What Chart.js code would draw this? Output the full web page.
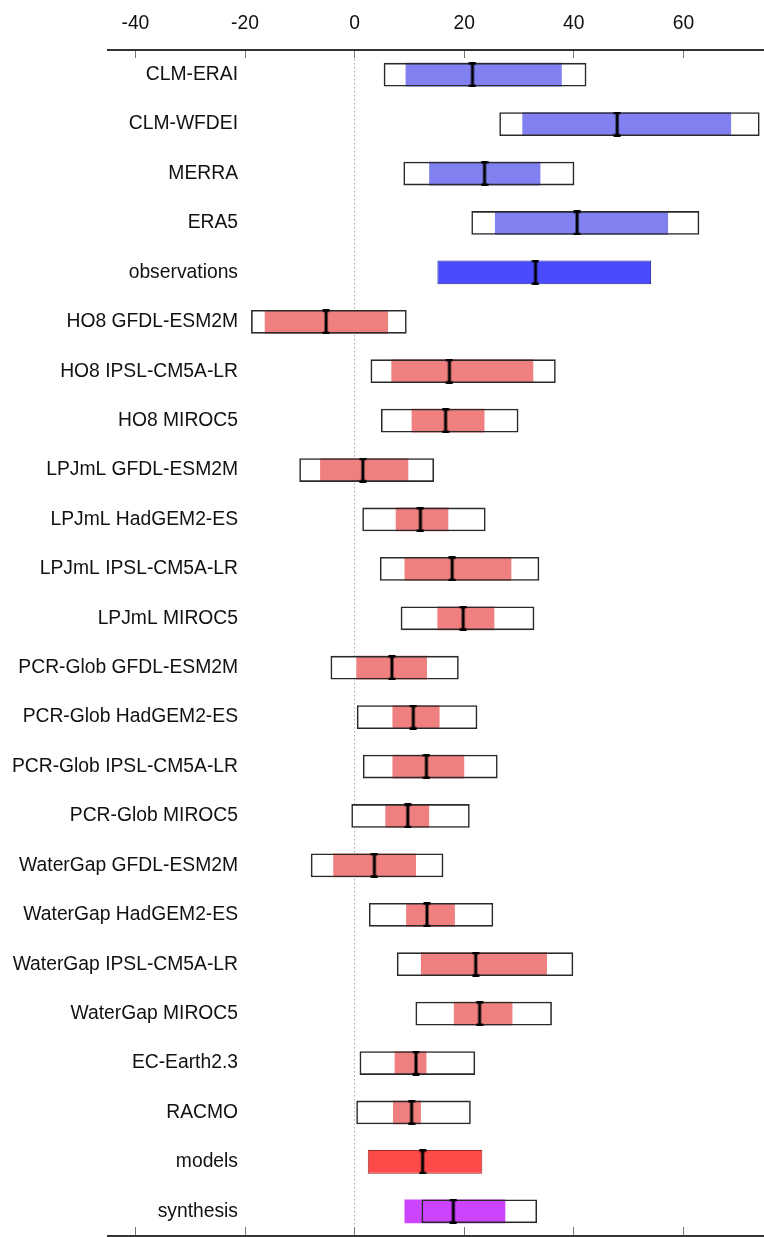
<!DOCTYPE html>
<html>
<head>
<meta charset="utf-8">
<script src="https://cdn.jsdelivr.net/npm/chart.js@4"></script>
<style>
  html, body { margin: 0; padding: 0; background: #ffffff; overflow: hidden; }
  #wrap { width: 764px; height: 1237px; }
  canvas { display: block; }
</style>
</head>
<body>
<div id="wrap"><canvas id="chart" width="764" height="1237"></canvas></div>
<script>
// Trend estimates per data source: full range (outer box), central range (filled bar) and best estimate.
const categories = [
  'CLM-ERAI', 'CLM-WFDEI', 'MERRA', 'ERA5', 'observations',
  'HO8 GFDL-ESM2M', 'HO8 IPSL-CM5A-LR', 'HO8 MIROC5',
  'LPJmL GFDL-ESM2M', 'LPJmL HadGEM2-ES', 'LPJmL IPSL-CM5A-LR', 'LPJmL MIROC5',
  'PCR-Glob GFDL-ESM2M', 'PCR-Glob HadGEM2-ES', 'PCR-Glob IPSL-CM5A-LR', 'PCR-Glob MIROC5',
  'WaterGap GFDL-ESM2M', 'WaterGap HadGEM2-ES', 'WaterGap IPSL-CM5A-LR', 'WaterGap MIROC5',
  'EC-Earth2.3', 'RACMO', 'models', 'synthesis'
];
const kinds = [
  'reanalysis', 'reanalysis', 'reanalysis', 'reanalysis', 'observations',
  'model', 'model', 'model',
  'model', 'model', 'model', 'model',
  'model', 'model', 'model', 'model',
  'model', 'model', 'model', 'model',
  'model', 'model', 'models', 'synthesis'
];
const outerLow  = [5.3, 26.4, 8.9, 21.3, null, -18.9, 2.9, 4.8, -10.1, 1.4, 4.6, 8.4, -4.4, 0.4, 1.5, -0.6, -8.0, 2.6, 7.7, 11.1, 0.9, 0.3, null, 12.2];
const outerHigh = [42.3, 73.9, 40.1, 62.9, null, 9.5, 36.7, 29.9, 14.5, 23.9, 33.7, 32.8, 19.0, 22.4, 26.1, 21.0, 16.2, 25.3, 39.9, 36.0, 22.0, 21.2, null, 33.3];
const innerLow  = [9.3, 30.6, 13.6, 25.6, 15.1, -16.4, 6.7, 10.4, -6.3, 7.5, 9.1, 15.1, 0.3, 6.9, 6.9, 5.6, -3.9, 9.4, 12.1, 18.1, 7.3, 7.0, 2.4, 9.1];
const innerHigh = [37.8, 68.7, 33.9, 57.2, 54.1, 6.1, 32.6, 23.7, 9.8, 17.1, 28.6, 25.5, 13.2, 15.5, 20.0, 13.6, 11.2, 18.3, 35.1, 28.8, 13.1, 12.1, 23.3, 27.5];
const bestEstimate = [21.5, 47.9, 23.7, 40.6, 33.0, -5.2, 17.3, 16.6, 1.5, 12.0, 17.8, 19.8, 6.8, 10.7, 13.1, 9.7, 3.6, 13.2, 22.1, 22.8, 11.2, 10.4, 12.4, 18.0];
const xTickValues = [-40, -20, 0, 20, 40, 60];
const xMin = -45;
const xMax = 74.7;

// Styling
const FONT_FAMILY = "'Liberation Sans', Arial, Helvetica, sans-serif";
const FONT_SIZE = 19.3;
const fillColors = {
  reanalysis: 'rgb(128,128,240)',
  observations: 'rgb(74,74,255)',
  model: 'rgb(240,128,128)',
  models: 'rgb(255,74,74)',
  synthesis: 'rgb(204,68,255)'
};
const fillBorders = {
  observations: 'rgb(40,40,150)',
  models: 'rgb(150,40,40)'
};

const outerRanges = categories.map((_, i) => outerLow[i] === null ? null : [outerLow[i], outerHigh[i]]);
const innerRanges = categories.map((_, i) => [innerLow[i], innerHigh[i]]);

// I-beam marker for the best estimate
const beam = document.createElement('canvas');
beam.width = 8; beam.height = 25;
(() => {
  const g = beam.getContext('2d');
  g.fillStyle = '#000';
  g.fillRect(2.5, 0, 3, 25);
  g.fillRect(0.5, 0, 7, 2.5);
  g.fillRect(0.5, 22.5, 7, 2.5);
})();

// Right-align category labels at a fixed edge inside the plot
const LEFT_PAD = 108;
const LABEL_RIGHT = 238;
const meas = document.createElement('canvas').getContext('2d');
meas.font = 'normal ' + FONT_SIZE + 'px ' + FONT_FAMILY;
const widest = Math.max(...categories.map(c => meas.measureText(c).width));

const setTicks = scale => { scale.ticks = xTickValues.map(v => ({ value: v })); };

const barCommon = { grouped: false, categoryPercentage: 1.0, barPercentage: 0.48, borderSkipped: false };

new Chart(document.getElementById('chart'), {
  data: {
    labels: categories,
    datasets: [
      Object.assign({
        type: 'bar', label: 'range', data: outerRanges,
        backgroundColor: '#ffffff', borderWidth: 0, order: 4
      }, barCommon),
      Object.assign({
        type: 'bar', label: 'central', data: innerRanges,
        backgroundColor: kinds.map(k => fillColors[k]),
        borderColor: kinds.map(k => fillBorders[k] || 'rgba(0,0,0,0)'),
        borderWidth: kinds.map(k => fillBorders[k] ? 1 : 0),
        order: 3
      }, barCommon),
      Object.assign({
        type: 'bar', label: 'range outline', data: outerRanges,
        backgroundColor: 'rgba(0,0,0,0)', borderColor: '#2a2a2a', borderWidth: 1.6, order: 2
      }, barCommon),
      {
        type: 'line', label: 'best estimate', data: bestEstimate,
        indexAxis: 'y', showLine: false,
        pointStyle: beam, pointRadius: 6, pointHoverRadius: 6,
        order: 1
      }
    ]
  },
  options: {
    indexAxis: 'y',
    responsive: false,
    devicePixelRatio: 1,
    animation: false,
    layout: { autoPadding: false, padding: { left: LEFT_PAD, right: 0, top: 0, bottom: 1 } },
    plugins: { legend: { display: false }, tooltip: { enabled: false } },
    font: { family: FONT_FAMILY, size: FONT_SIZE },
    scales: {
      x: {
        type: 'linear', position: 'top', min: xMin, max: xMax,
        afterBuildTicks: setTicks,
        afterFit: s => { s.height = 50; },
        ticks: { includeBounds: false, color: '#111', padding: 22.6, font: { family: FONT_FAMILY, size: FONT_SIZE } },
        grid: {
          drawOnChartArea: true, drawTicks: true, tickLength: -8,
          tickColor: '#777', tickWidth: 1, lineWidth: 1,
          color: c => (c.tick && c.tick.value === 0) ? '#a8a8a8' : 'rgba(0,0,0,0)'
        },
        border: { display: true, color: '#333333', width: 2, dash: [1.5, 2.5] }
      },
      x2: {
        type: 'linear', axis: 'x', position: 'bottom', min: xMin, max: xMax,
        afterBuildTicks: setTicks,
        afterFit: s => { s.height = 0; },
        ticks: { display: false, includeBounds: false },
        grid: { drawOnChartArea: false, drawTicks: true, tickLength: -9, tickColor: '#777', tickWidth: 1 },
        border: { display: true, color: '#333333', width: 2 }
      },
      y: {
        type: 'category', position: 'left', offset: true,
        afterFit: s => { s.width = 0; },
        ticks: {
          mirror: true, crossAlign: 'far',
          padding: LABEL_RIGHT - LEFT_PAD - widest,
          color: '#111', font: { family: FONT_FAMILY, size: FONT_SIZE }
        },
        grid: { display: false, drawTicks: false },
        border: { display: false }
      }
    }
  }
});
</script>
</body>
</html>
